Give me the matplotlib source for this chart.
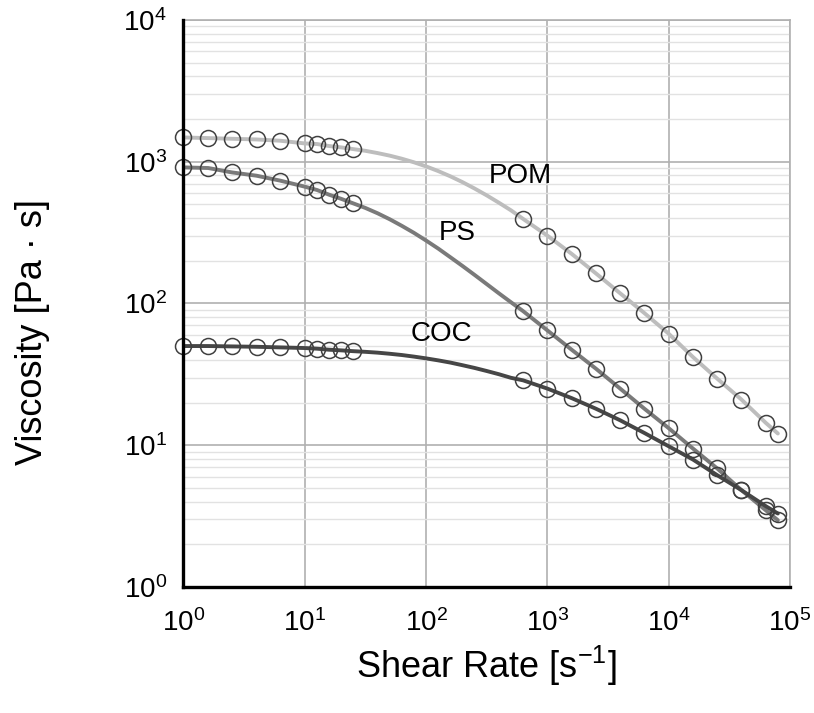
import matplotlib
matplotlib.use("Agg")
import matplotlib.pyplot as plt
from matplotlib.ticker import FixedLocator, LogLocator, NullFormatter

plt.rcParams['font.family'] = ['Liberation Sans', 'DejaVu Sans']
plt.rcParams['mathtext.fontset'] = 'custom'
plt.rcParams['mathtext.rm'] = 'Liberation Sans'

# measured data points (shear rate in 1/s, viscosity in Pa*s)
shear_rate = [1, 1.6, 2.5, 4, 6.3, 10, 12.6, 15.8, 20, 25,
              631, 1000, 1585, 2512, 3981, 6310, 10000, 15849, 25119, 39811, 63096, 79433]
pom = [1483, 1468, 1452, 1436, 1406, 1346, 1333, 1291, 1262, 1228,
       395, 301, 224, 163, 118, 85.5, 61.2, 41.9, 29.5, 21.0, 14.4, 12.1]
ps = [912, 903, 841, 797, 735, 667, 632, 586, 547, 509,
      88.3, 64.6, 47.2, 34.7, 25.1, 18.1, 13.2, 9.48, 6.86, 4.82, 3.48, 2.96]
coc = [50.1, 50.1, 49.8, 49.5, 49.0, 48.5, 48.0, 47.2, 46.7, 46.1,
       28.7, 25.1, 21.5, 18.1, 15.0, 12.2, 9.84, 7.93, 6.15, 4.82, 3.72, 3.30]

# fitted model curve, read off the picture where no markers are present
fit_rate = [31.6, 39.8, 50.1, 63.1, 79.4, 100, 125.9, 158.5, 199.5, 251.2, 316.2, 398.1, 501.2]
fit_pom = [1194, 1151, 1104, 1050, 991, 927, 859, 789, 718, 647, 579, 514, 454]
fit_ps = [472, 433, 393, 353, 315, 278, 244, 212, 184, 159, 137, 118, 102]
fit_coc = [45.6, 45.0, 44.2, 43.3, 42.2, 41.0, 39.7, 38.3, 36.7, 35.1, 33.4, 31.7, 29.9]

labels = ['POM', 'PS', 'COC']
label_pos = [(594, 797), (180, 316), (133, 60.5)]
line_colors = ['#BDBDBD', '#7A7A7A', '#464646']

x_ticks = [1e0, 1e1, 1e2, 1e3, 1e4, 1e5]
x_ticklabels = [r'$\mathregular{10^{%d}}$' % i for i in range(6)]
y_ticks = [1e0, 1e1, 1e2, 1e3, 1e4]
y_ticklabels = [r'$\mathregular{10^{%d}}$' % i for i in range(5)]

fig = plt.figure(figsize=(8.14, 7.13), dpi=100)
ax = fig.add_axes([0.2254, 0.1767, 0.7451, 0.7953])
ax.set_xscale('log')
ax.set_yscale('log')
ax.set_xlim(1, 1e5)
ax.set_ylim(1, 1e4)

def curve(vals, fit_vals):
    pts = sorted(list(zip(shear_rate, vals)) + list(zip(fit_rate, fit_vals)))
    return [p[0] for p in pts], [p[1] for p in pts]

for vals, fvals, col in zip([pom, ps, coc], [fit_pom, fit_ps, fit_coc], line_colors):
    cx, cy = curve(vals, fvals)
    ax.plot(cx, cy, color=col, lw=2.8, zorder=3, solid_capstyle='round',
            solid_joinstyle='round')
for vals in [pom, ps, coc]:
    ax.plot(shear_rate, vals, linestyle='none', marker='o', markersize=11.5,
            markerfacecolor='none', markeredgecolor='#404040', markeredgewidth=1.1,
            zorder=4, clip_on=False)

for lab, (lx, ly) in zip(labels, label_pos):
    ax.text(lx, ly, lab, fontsize=20, ha='center', va='center', color='black', zorder=5)

ax.xaxis.set_major_locator(FixedLocator(x_ticks))
ax.set_xticklabels(x_ticklabels)
ax.yaxis.set_major_locator(FixedLocator(y_ticks))
ax.set_yticklabels(y_ticklabels)
ax.xaxis.set_minor_locator(LogLocator(base=10, subs=range(2, 10), numticks=20))
ax.yaxis.set_minor_locator(LogLocator(base=10, subs=range(2, 10), numticks=20))
ax.xaxis.set_minor_formatter(NullFormatter())
ax.yaxis.set_minor_formatter(NullFormatter())
ax.tick_params(which='both', length=0)
ax.tick_params(axis='x', which='major', labelsize=20, pad=16)
ax.tick_params(axis='y', which='major', labelsize=20, pad=12)

ax.grid(True, which='major', axis='both', color='#B0B0B0', lw=1.2, zorder=0)
ax.grid(True, which='minor', axis='y', color='#E2E2E2', lw=1.0, zorder=0)
ax.set_axisbelow(True)

for s in ['top', 'right']:
    ax.spines[s].set_color('#B0B0B0')
    ax.spines[s].set_linewidth(1.2)
for s in ['left', 'bottom']:
    ax.spines[s].set_color('black')
    ax.spines[s].set_linewidth(2.4)
    ax.spines[s].set_zorder(5)

ax.set_xlabel(r'Shear Rate [s$\mathregular{^{-1}}$]', fontsize=26)
ax.set_ylabel('Viscosity [Pa · s]', fontsize=26)
ax.xaxis.set_label_coords(0.5, -0.1)
ax.yaxis.set_label_coords(-0.22, 0.45)

fig.savefig('out.png', dpi=100, facecolor='white')
